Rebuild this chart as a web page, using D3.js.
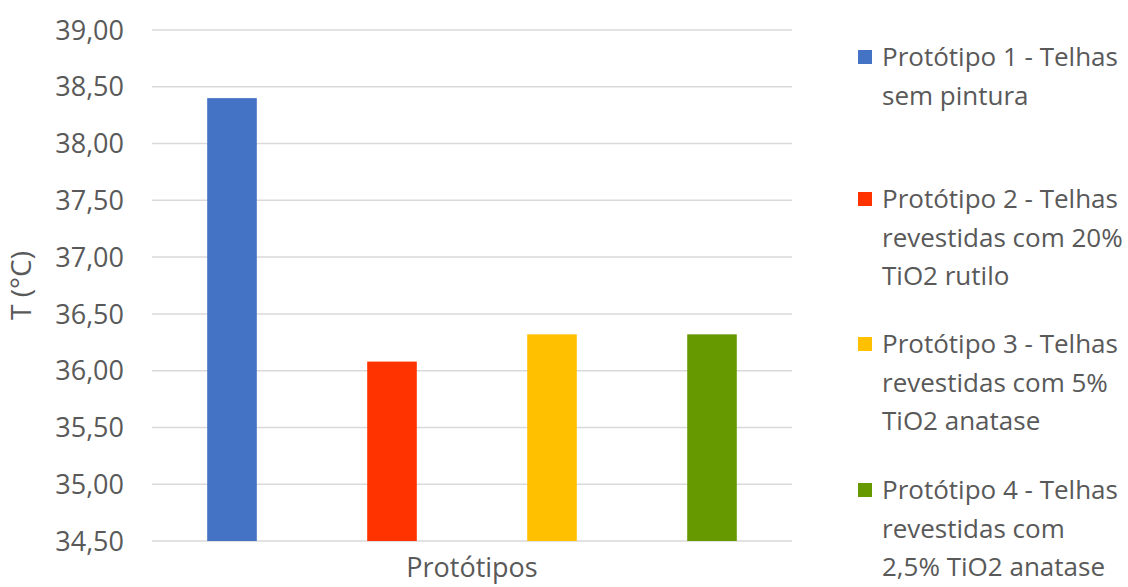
<!DOCTYPE html>
<html>
<head>
<meta charset="utf-8">
<script src="https://cdn.jsdelivr.net/npm/d3@7"></script>
<style>
  body { margin: 0; background: #fff; }
  text { font-family: "Open Sans", "Noto Sans", sans-serif; fill: #595959; }
</style>
</head>
<body>
<div id="chart"></div>
<script>
// data
const series = ["Protótipo 1", "Protótipo 2", "Protótipo 3", "Protótipo 4"]
const values = [38.40, 36.08, 36.32, 36.32]
const colors = ["#4472c4", "#ff3300", "#ffc000", "#669900"]
const legendLines = [
    ["Protótipo 1 - Telhas", "sem pintura"],
    ["Protótipo 2 - Telhas", "revestidas com 20%", "TiO2 rutilo"],
    ["Protótipo 3 - Telhas", "revestidas com 5%", "TiO2 anatase"],
    ["Protótipo 4 - Telhas", "revestidas com", "2,5% TiO2 anatase"]
]
const yTicks = [34.5, 35, 35.5, 36, 36.5, 37, 37.5, 38, 38.5, 39]

const width = 1128, height = 587
const margin = {top: 30, right: 336, bottom: 46, left: 152}

const svg = d3.select("#chart").append("svg")
    .attr("width", width)
    .attr("height", height)

const y = d3.scaleLinear()
    .domain([34.5, 39])
    .range([height - margin.bottom, margin.top])

const x = d3.scaleBand()
    .domain(series)
    .range([margin.left, width - margin.right])

// gridlines
svg.append("g")
    .selectAll("line")
    .data(yTicks)
    .enter()
    .append("line")
    .attr("x1", margin.left)
    .attr("x2", width - margin.right)
    .attr("y1", d => y(d))
    .attr("y2", d => y(d))
    .attr("stroke", "#d9d9d9")
    .attr("stroke-width", 1.5)

// y axis labels
const fmt = d => d3.format(".2f")(d).replace(".", ",")
svg.append("g")
    .selectAll("text")
    .data(yTicks)
    .enter()
    .append("text")
    .attr("x", 124)
    .attr("y", d => y(d))
    .attr("dy", "0.36em")
    .attr("text-anchor", "end")
    .style("font-size", "27px")
    .text(fmt)

// bars
const barW = x.bandwidth() * 0.31
svg.append("g")
    .selectAll("rect")
    .data(series)
    .enter()
    .append("rect")
    .attr("x", d => x(d) + x.bandwidth() / 2 - barW / 2)
    .attr("width", barW)
    .attr("y", (d, i) => y(values[i]))
    .attr("height", (d, i) => y(34.5) - y(values[i]))
    .attr("fill", (d, i) => colors[i])

// axis titles
svg.append("text")
    .attr("x", (margin.left + width - margin.right) / 2)
    .attr("y", 577)
    .attr("text-anchor", "middle")
    .style("font-size", "27px")
    .text("Protótipos")

svg.append("text")
    .attr("transform", "translate(31," + ((margin.top + height - margin.bottom) / 2) + ") rotate(-90)")
    .attr("text-anchor", "middle")
    .style("font-size", "28px")
    .text("T (°C)")

// legend
const legendTop = [57, 199, 344, 490]
const leg = svg.append("g")
    .selectAll("g")
    .data(series)
    .enter()
    .append("g")
    .attr("transform", (d, i) => "translate(858," + legendTop[i] + ")")

leg.append("rect")
    .attr("x", 0)
    .attr("y", -7)
    .attr("width", 14)
    .attr("height", 14)
    .attr("fill", (d, i) => colors[i])

leg.append("text")
    .style("font-size", "26px")
    .selectAll("tspan")
    .data((d, i) => legendLines[i])
    .enter()
    .append("tspan")
    .attr("x", 24)
    .attr("y", (d, j) => j * 38.5)
    .attr("dy", "0.35em")
    .text(d => d)
</script>
</body>
</html>
